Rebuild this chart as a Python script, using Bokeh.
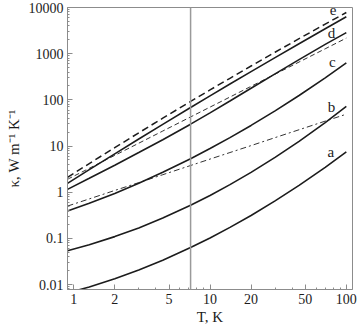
from bokeh.plotting import figure
from bokeh.models import FixedTicker, CustomJSTickFormatter, Span
from bokeh.embed import file_html
from bokeh.resources import INLINE
from bokeh.core.properties import value

# Temperature grid (K)
T = [0.9, 1.3, 2, 3, 4.5, 7.2, 10, 14, 20, 30, 45, 70, 100]

# thermal conductivity curves (W m^-1 K^-1)
kappa_a = [0.00655, 0.00887, 0.0134, 0.0207, 0.0337, 0.0632, 0.102, 0.173, 0.313, 0.647, 1.405, 3.46, 7.5]
kappa_b = [0.054, 0.0726, 0.109, 0.168, 0.275, 0.52, 0.849, 1.455, 2.68, 5.67, 12.6, 32.2, 72]
kappa_c = [0.39, 0.574, 0.94, 1.56, 2.69, 5.3, 8.8, 15.2, 27.9, 57.7, 124, 300, 631]
kappa_d = [1.15, 2.0, 3.84, 7.21, 13.7, 29.7, 52.2, 94.4, 178, 366, 742, 1587, 2860]
kappa_e_solid = [1.55, 3.07, 6.77, 14.2, 29.4, 68.1, 122, 220, 409, 823, 1643, 3465, 6297]
kappa_e_dashed = [2.1, 4.17, 9.23, 19.3, 40.1, 92.2, 164, 293, 541, 1074, 2113, 4370, 7801]
kappa_thin_upper = [1.9, 3.29, 6.27, 11.5, 21.1, 42.6, 69.6, 115, 196, 359, 659, 1276, 2175]
kappa_thin_lower = [0.5, 0.715, 1.09, 1.61, 2.39, 3.78, 5.21, 7.22, 10.2, 15.2, 22.5, 34.6, 48.9]

curve_labels = ["a", "b", "c", "d", "e"]
label_T = [77, 78, 79, 78, 80]
label_kappa = [7.6, 70, 660, 2800, 8800]

T_line = 7.2

x_major = [1, 2, 5, 10, 20, 50, 100]
x_minor = [3, 4, 6, 7, 8, 9, 30, 40, 60, 70, 80, 90]
y_major = [0.01, 0.1, 1, 10, 100, 1000, 10000]
y_minor = [k * 10.0 ** n for n in range(-3, 4) for k in range(2, 10)]

FONT = "Liberation Serif"
GRAY = "#8c8c8c"
INK = "#1c1c1c"

p = figure(width=363, height=327, x_axis_type="log", y_axis_type="log",
           x_range=(0.9, 111), y_range=(0.0078, 10000),
           output_backend="svg", toolbar_location=None,
           min_border_left=67, min_border_right=11, min_border_top=7, min_border_bottom=35)
p.grid.visible = False
p.outline_line_color = GRAY
p.background_fill_color = "white"
p.border_fill_color = "white"

fmt = CustomJSTickFormatter(code="return tick >= 1 ? tick.toFixed(0) : String(Number(tick.toPrecision(2)));")

def style_axis(ax, ticker):
    ax.ticker = ticker
    ax.formatter = fmt
    ax.axis_line_color = GRAY
    ax.major_tick_line_color = GRAY
    ax.minor_tick_line_color = GRAY
    ax.major_tick_in = 5
    ax.major_tick_out = 0
    ax.minor_tick_in = 2
    ax.minor_tick_out = 0
    ax.major_label_text_font = FONT
    ax.major_label_text_font_size = "14px"
    ax.major_label_text_color = INK
    ax.axis_label_text_font = FONT
    ax.axis_label_text_font_size = "15px"
    ax.axis_label_text_font_style = "normal"
    ax.axis_label_text_color = INK
    ax.major_label_standoff = 4

style_axis(p.xaxis[0], FixedTicker(ticks=x_major, minor_ticks=x_minor))
style_axis(p.yaxis[0], FixedTicker(ticks=y_major, minor_ticks=y_minor))
p.xaxis[0].axis_label = "T, K"
p.xaxis[0].axis_label_standoff = 2
p.yaxis[0].axis_label = "κ, W m⁻¹ K⁻¹"
p.yaxis[0].axis_label_standoff = 4

p.add_layout(Span(location=T_line, dimension="height", line_color="#9a9a9a", line_width=1.5))

for ys in [kappa_a, kappa_b, kappa_c, kappa_d, kappa_e_solid]:
    p.line(T, ys, line_color=INK, line_width=1.6)
p.line(T, kappa_e_dashed, line_color=INK, line_width=1.5, line_dash="7 4")
p.line(T, kappa_thin_upper, line_color=INK, line_width=0.9, line_dash="5 3")
p.line(T, kappa_thin_lower, line_color=INK, line_width=0.9, line_dash="6 3 2 3")

p.text(x=label_T, y=label_kappa, text=curve_labels, text_font=value(FONT),
       text_font_size="15px", text_color=INK, text_align="center", text_baseline="middle")

open("out.html", "w").write(file_html(p, INLINE))
